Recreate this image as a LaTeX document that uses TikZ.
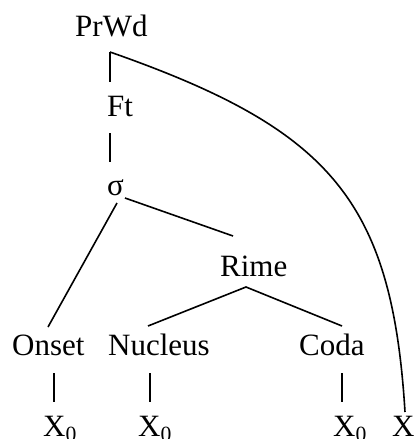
\documentclass[tikz,border=0pt]{standalone}
\usepackage{fontspec}
\setmainfont{Liberation Serif}
\tikzset{
  lbl/.style={inner sep=0pt, anchor=base west, font=\fontsize{31}{31}\selectfont},
  branch/.style={line width=1.6pt},
  tick/.style={line width=1.1pt},
}
\begin{document}
\begin{tikzpicture}[x=1pt,y=-1pt]
\useasboundingbox (0,0) rectangle (419,439);
% labels
\node[lbl] (prwd) at (75,36) {PrWd};
\node[lbl] (ft) at (107,116) {Ft};
\node[lbl] (sigma) at (107,195) {σ};
\node[lbl] (rime) at (220,276) {Rime};
\node[lbl] (onset) at (12,355) {Onset};
\node[lbl] (nucleus) at (108,355) {Nucleus};
\node[lbl] (coda) at (299,355) {Coda};
\node[lbl] (xa) at (43,436) {X\textsubscript{0}};
\node[lbl] (xb) at (138,436) {X\textsubscript{0}};
\node[lbl] (xc) at (333,436) {X\textsubscript{0}};
\node[lbl] (xd) at (392,436) {X};
% connector end points
\coordinate (j) at (110,52);
\coordinate (ftT) at (110,82);
\coordinate (ftB) at (110,133);
\coordinate (sgT) at (110,162);
\coordinate (sgL) at (117,203);
\coordinate (sgR) at (125,198);
\coordinate (onT) at (48,327);
\coordinate (rmT) at (233,236);
\coordinate (rmB) at (246,287);
\coordinate (nuT) at (148,326);
\coordinate (coT) at (342,326);
\coordinate (onB) at (54,373);
\coordinate (xaT) at (54,402);
\coordinate (nuB) at (150,373);
\coordinate (xbT) at (150,402);
\coordinate (coB) at (342,373);
\coordinate (xcT) at (342,402);
\coordinate (xdT) at (405,412);
% connectors
\draw[tick] (j) -- (ftT);
\draw[tick] (ftB) -- (sgT);
\draw[branch] (sgL) -- (onT);
\draw[branch] (sgR) -- (rmT);
\draw[branch] (nuT) -- (rmB) -- (coT);
\draw[tick] (onB) -- (xaT);
\draw[tick] (nuB) -- (xbT);
\draw[tick] (coB) -- (xcT);
\draw[branch] (j) .. controls (330,129) and (392,200) .. (xdT);
\end{tikzpicture}
\end{document}
